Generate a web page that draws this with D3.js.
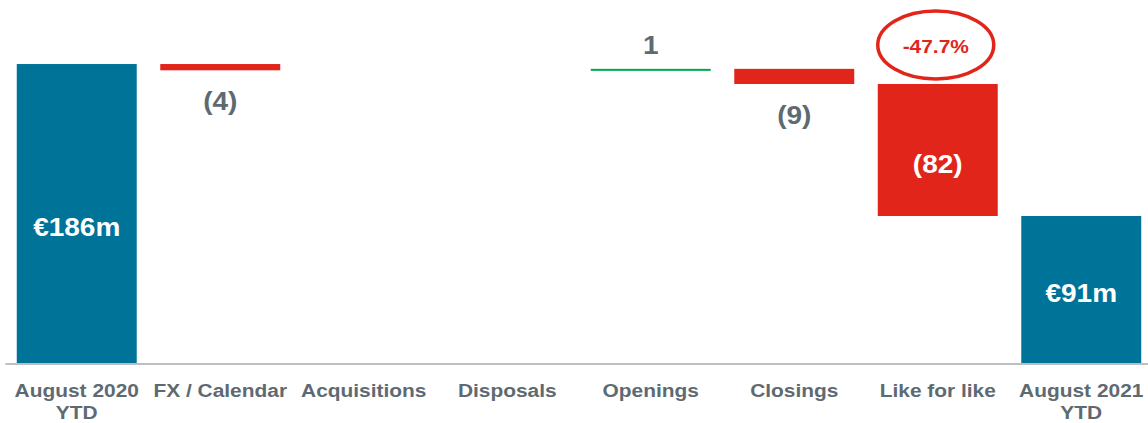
<!DOCTYPE html>
<html>
<head>
<meta charset="utf-8">
<script src="https://cdn.jsdelivr.net/npm/d3@7"></script>
<style>
  html, body { margin: 0; padding: 0; background: #fff; }
  svg { display: block; font-family: Arial, "Liberation Sans", sans-serif; font-weight: bold; }
</style>
</head>
<body>
<svg class="chart" width="1148" height="423"></svg>
<script>
// bridge steps (EUR m)
const categories = ['August 2020\nYTD', 'FX / Calendar', 'Acquisitions', 'Disposals', 'Openings', 'Closings', 'Like for like', 'August 2021\nYTD'];
const kinds = ['total', 'delta', 'delta', 'delta', 'delta', 'delta', 'delta', 'total'];
const values = [185.7, -3.9, 0, 0, 0.9, -9.4, -82.0, 91.3];
const lflChange = '-47.7%';

const startApp = () => {
  const svgWidth = 1148;
  const baseY = 363;
  const colors = { total: '#007398', down: '#e2251b', up: '#00a650', text: '#5e6a72', axis: '#a8a8a8' };

  const xScale = d3.scaleBand().domain(categories).range([5, 1153]).paddingInner(0.164).paddingOuter(0.082);
  const yScale = d3.scaleLinear().domain([0, 200]).range([baseY, 41]);

  const chart = d3.select('.chart');

  // running totals for the floating bars
  let running = 0;
  const steps = categories.map((cat, i) => {
    let from, to;
    if (kinds[i] === 'total') { from = 0; to = values[i]; running = values[i]; }
    else { from = running; to = running + values[i]; running = to; }
    return { cat, kind: kinds[i], value: values[i], from, to };
  });

  const fillFor = d => d.kind === 'total' ? colors.total : (d.value < 0 ? colors.down : colors.up);
  const barTop = d => yScale(Math.max(d.from, d.to));
  const barH = d => Math.max(2, Math.abs(yScale(d.from) - yScale(d.to)));

  chart.selectAll('rect.bar')
    .data(steps.filter(d => d.value !== 0))
    .enter()
    .append('rect')
    .classed('bar', true)
    .attr('x', d => xScale(d.cat))
    .attr('y', barTop)
    .attr('width', xScale.bandwidth())
    .attr('height', barH)
    .attr('fill', fillFor);

  // axis line + category labels
  const xAxis = d3.axisBottom(xScale).tickSize(0).tickFormat('');
  const axisG = chart.append('g')
    .attr('transform', `translate(0, ${baseY + 0.5})`)
    .call(xAxis);
  axisG.select('.domain').attr('stroke', colors.axis).attr('stroke-width', 1.5);
  axisG.selectAll('.tick text').remove();
  axisG.selectAll('.tick').each(function (cat) {
    const lines = cat.split('\n');
    const t = d3.select(this).append('text')
      .attr('transform', 'translate(0, 33) scale(1.1, 1)')
      .attr('text-anchor', 'middle')
      .attr('fill', colors.text)
      .attr('font-size', 19);
    lines.forEach((line, i) => {
      t.append('tspan').attr('x', 0).attr('dy', i === 0 ? 0 : 23).text(line);
    });
  });

  const fmt = d => {
    const r = Math.round(Math.abs(d.value));
    if (d.kind === 'total') return `€${r}m`;
    return d.value < 0 ? `(${r})` : `${r}`;
  };

  // value labels
  const labelPos = d => {
    const cx = xScale(d.cat) + xScale.bandwidth() / 2;
    const top = barTop(d);
    const bottom = top + barH(d);
    if (d.kind === 'total') {
      const off = d.value > 150 ? 22 : 12;
      return { x: cx, y: (top + bottom) / 2 + off, fill: '#fff' };
    }
    if (Math.abs(d.value) > 40) return { x: cx, y: (top + bottom) / 2 + 23, fill: '#fff' };
    if (d.value < 0) return { x: cx, y: bottom + 40, fill: colors.text };
    return { x: cx, y: top - 15, fill: colors.text };
  };

  chart.selectAll('text.value')
    .data(steps.filter(d => d.value !== 0))
    .enter()
    .append('text')
    .classed('value', true)
    .attr('transform', d => { const p = labelPos(d); return `translate(${p.x}, ${p.y}) scale(1.12, 1)`; })
    .attr('text-anchor', 'middle')
    .attr('font-size', 25)
    .attr('fill', d => labelPos(d).fill)
    .text(fmt);

  // like-for-like % callout
  const lfl = steps.find(d => d.cat === 'Like for like');
  const lx = xScale(lfl.cat) + xScale.bandwidth() / 2 - 2;
  chart.append('ellipse')
    .attr('cx', lx)
    .attr('cy', 45)
    .attr('rx', 58)
    .attr('ry', 34)
    .attr('fill', 'none')
    .attr('stroke', colors.down)
    .attr('stroke-width', 3.5);
  chart.append('text')
    .attr('transform', `translate(${lx}, 53) scale(1.1, 1)`)
    .attr('text-anchor', 'middle')
    .attr('font-size', 19)
    .attr('fill', colors.down)
    .text(lflChange);
};

window.onload = startApp;
</script>
</body>
</html>
